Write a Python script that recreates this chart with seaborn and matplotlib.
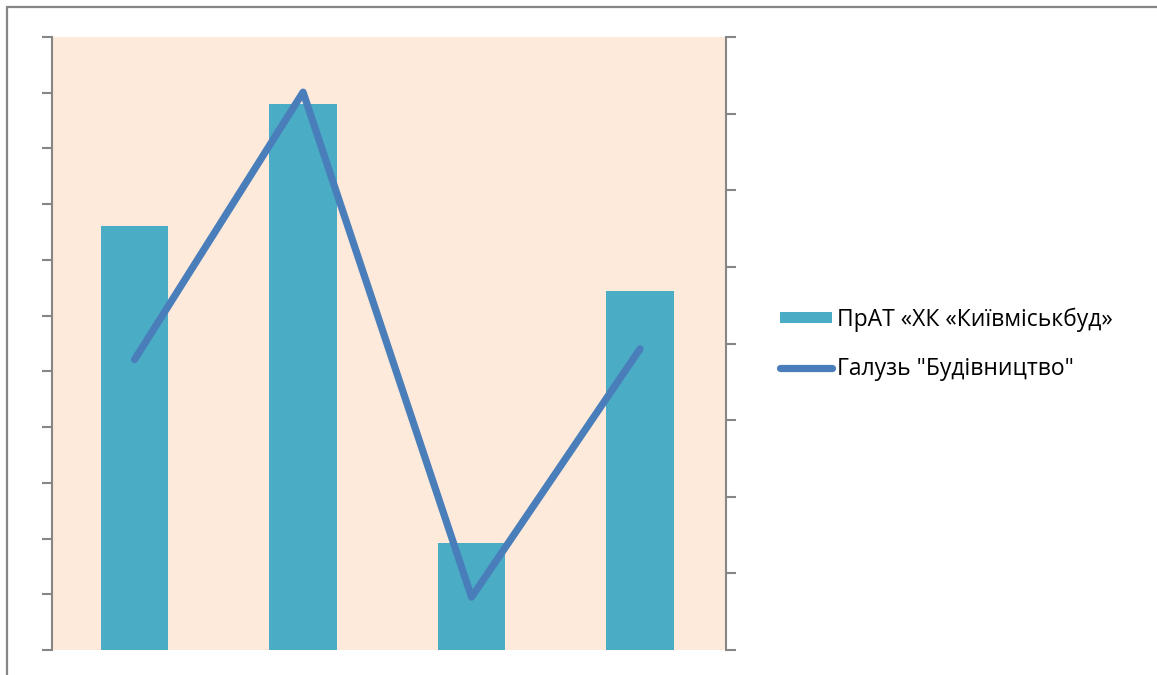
import matplotlib
matplotlib.use("Agg")
import matplotlib.pyplot as plt
import seaborn as sns
import pandas as pd
from matplotlib.patches import Patch, Rectangle
from matplotlib.lines import Line2D

# дані
categories = ["2012", "2013", "2014", "2015"]
company_values = [7.6, 9.8, 1.92, 6.44]
industry_values = [3.79, 7.28, 0.69, 3.93]
company_label = "ПрАТ «ХК «Київміськбуд»"
industry_label = 'Галузь "Будівництво"'

df = pd.DataFrame({"cat": categories, "company": company_values, "industry": industry_values})

sns.set_theme(style="white")
plt.rcParams['font.family'] = ['Open Sans', 'DejaVu Sans']

grey = "#868686"
bar_color = "#4BACC6"
line_color = "#4A7EBB"

fig = plt.figure(figsize=(11.57, 6.75), dpi=100)
ax = fig.add_axes([52 / 1157, 25 / 675, 674 / 1157, 613 / 675])
ax.set_facecolor("#FDEADA")

sns.barplot(data=df, x="cat", y="company", color=bar_color, width=0.4,
            saturation=1, linewidth=0, edgecolor="none", ax=ax)
ax.set_ylim(0, 11)
ax.set_yticks(range(0, 12))

ax2 = ax.twinx()
sns.lineplot(data=df, x="cat", y="industry", color=line_color, linewidth=5.2,
             solid_capstyle="round", ax=ax2)
ax2.set_ylim(0, 8)
ax2.set_yticks(range(0, 9))
ax.set_xlim(-0.49, 3.51)

for a in (ax, ax2):
    a.set_xlabel("")
    a.set_ylabel("")
    a.set_yticklabels([])
    a.set_xticks([])
    for s in ("top", "bottom"):
        a.spines[s].set_visible(False)
    for s in ("left", "right"):
        a.spines[s].set_color(grey)
        a.spines[s].set_linewidth(1.5)
    a.tick_params(axis="y", length=7, width=1.5, color=grey, direction="out")
ax.tick_params(axis="y", left=True, right=False)
ax2.tick_params(axis="y", left=False, right=True)
ax.spines["right"].set_visible(False)
ax2.spines["left"].set_visible(False)

# зовнішня рамка
fig.patches.append(Rectangle((7 / 1157, -0.2), 1.2, 0.2 + 668 / 675,
                             transform=fig.transFigure, fill=False,
                             edgecolor=grey, linewidth=1.6))

handles = [Patch(facecolor=bar_color, edgecolor="none", label=company_label),
           Line2D([0], [0], color=line_color, linewidth=5.2,
                  solid_capstyle="round", label=industry_label)]
fig.legend(handles=handles, loc="center left",
           bbox_to_anchor=(759 / 1157, 1 - 344 / 675), frameon=False,
           fontsize=16.5, labelcolor="black", handlelength=2.3,
           handleheight=0.4, handletextpad=0.2, labelspacing=1.1)

fig.savefig("out.png", dpi=100)
